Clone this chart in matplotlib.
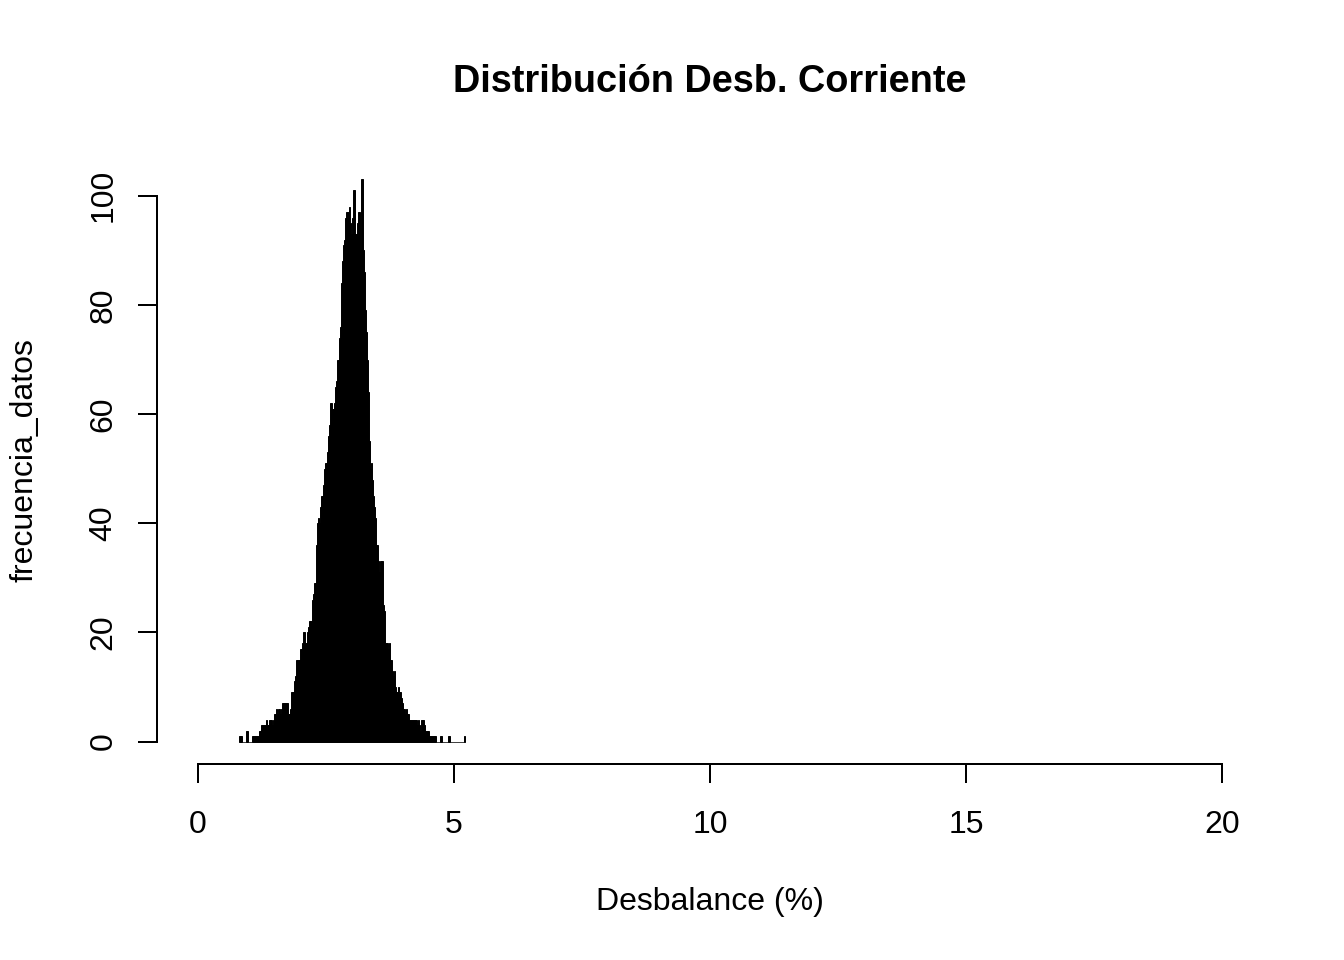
import numpy as np
import matplotlib
matplotlib.use("Agg")
import matplotlib.pyplot as plt

plt.rcParams['font.family'] = ['Liberation Sans', 'DejaVu Sans']

# bin starts (Desbalance %), bin width 0.02
bin_start = 0.80
bin_width = 0.02

# frequency per bin (rows of 10 bins)
frecuencia_datos = [
    1, 1, 1, 0, 0, 0, 0, 2, 2, 0,
    0, 0, 0, 1, 1, 1, 1, 1, 1, 1,
    2, 2, 3, 3, 3, 3, 4, 3, 3, 4,
    4, 4, 3, 4, 5, 5, 6, 5, 6, 6,
    5, 6, 7, 7, 7, 7, 7, 7, 5, 5,
    6, 9, 9, 9, 11, 12, 15, 15, 15, 15,
    17, 17, 18, 20, 20, 18, 20, 21, 22, 22,
    22, 26, 27, 29, 29, 36, 40, 41, 40, 43,
    45, 45, 47, 50, 51, 51, 53, 56, 58, 62,
    62, 61, 61, 62, 65, 66, 70, 70, 74, 76,
    84, 88, 91, 92, 96, 97, 97, 98, 95, 93,
    96, 101, 101, 93, 93, 95, 97, 97, 90, 103,
    103, 90, 86, 79, 75, 70, 64, 55, 50, 51,
    48, 45, 43, 41, 36, 36, 33, 31, 33, 33,
    33, 25, 24, 18, 18, 18, 17, 18, 15, 13,
    12, 13, 10, 9, 9, 10, 9, 9, 8, 7,
    6, 6, 5, 6, 5, 5, 4, 4, 4, 4,
    4, 4, 4, 4, 3, 4, 3, 2, 4, 4,
    4, 3, 2, 2, 2, 2, 1, 1, 1, 1,
    1, 1, 0, 0, 0, 0, 1, 1, 0, 0,
    0, 0, 0, 0, 1, 1, 0, 0, 0, 0,
    0, 0, 0, 0, 0, 0, 0, 0, 0, 0,
    1,
]

x_ticks = [0, 5, 10, 15, 20]
y_ticks = [0, 20, 40, 60, 80, 100]

lefts = bin_start + bin_width * np.arange(len(frecuencia_datos))
ymax = max(frecuencia_datos)

fig = plt.figure(figsize=(13.44, 9.6), dpi=100)
ax = fig.add_axes([157 / 1344, 1 - 764 / 960, (1263 - 157) / 1344, (764 - 157) / 960])

ax.bar(lefts, frecuencia_datos, width=bin_width, align="edge",
       color="black", edgecolor="black", linewidth=0.7)

# R style: 4% padding, detached axes
ax.set_xlim(-0.04 * 20, 20 * 1.04)
ax.set_ylim(-0.04 * ymax, ymax * 1.04)

for s in ["top", "right"]:
    ax.spines[s].set_visible(False)
ax.spines["left"].set_bounds(0, 100)
ax.spines["bottom"].set_bounds(0, 20)
for s in ["left", "bottom"]:
    ax.spines[s].set_linewidth(1.44)

ax.set_xticks(x_ticks)
ax.set_yticks(y_ticks)
ax.set_yticklabels([str(t) for t in y_ticks], rotation=90, va="center")
ax.tick_params(axis="both", length=13.8, width=1.44, labelsize=23, color="black")
ax.tick_params(axis="x", pad=19.5)
ax.tick_params(axis="y", pad=14)

fig.text(710 / 1344, 1 - 82 / 960, "Distribución Desb. Corriente",
         ha="center", va="center", fontsize=27.3, fontweight="bold")
fig.text(710 / 1344, 1 - 902 / 960, "Desbalance (%)",
         ha="center", va="center", fontsize=23)
fig.text(25 / 1344, 1 - 460 / 960, "frecuencia_datos",
         ha="center", va="center", fontsize=23, rotation=90)

fig.savefig("out.png", dpi=100)
